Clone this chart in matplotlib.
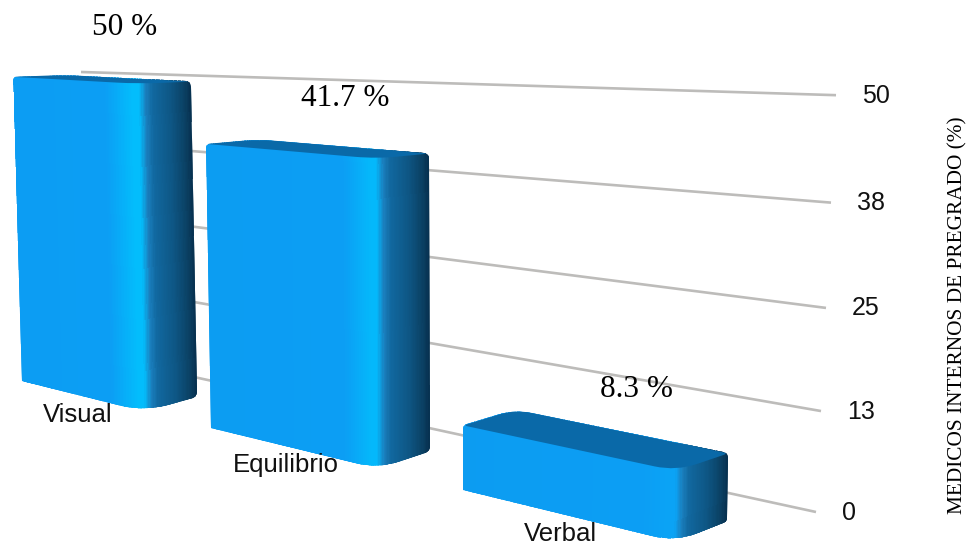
import numpy as np
import matplotlib
matplotlib.use("Agg")
import matplotlib.pyplot as plt
from matplotlib.path import Path
from matplotlib.patches import PathPatch
from matplotlib.colors import to_rgb

categories = ["Visual", "Equilibrio", "Verbal"]
values = [50.0, 41.7, 8.3]
value_labels = ["50 %", "41.7 %", "8.3 %"]
tick_values = [0, 12.5, 25, 37.5, 50]
tick_labels = ["0", "13", "25", "38", "50"]
axis_title = "MEDICOS INTERNOS DE PREGRADO (%)"

SANS = "Liberation Sans"
SERIF = "Liberation Serif"
HALF = 0.345


def project(t, v, d=0.0):
    """Perspective of the bar space: category t, value v, depth d, to pixels."""
    bx = 80 + 178.25 * t + 32.25 * t ** 2
    by = 381 + 0.2466 * (bx - 22)
    scale = 6.0 + 0.0038 * bx
    lean = -0.2 + 0.00045 * bx
    x = bx + lean * v
    y = by - scale * v
    return np.array([x + 52 * d, y - (2 + 0.04 * (y - 80)) * d])


def wall(s, v):
    """Perspective of the grid wall: position s along it, value v, to pixels."""
    left = np.array([81.0, 352.5 - 5.61 * v])
    right = np.array([816 + 0.4 * v, 512 - 7.99 * v - 0.00693 * v ** 2])
    return left + (right - left) * s


def rounded(points, radii):
    verts, codes = [], []
    n = len(points)
    for i in range(n):
        p = np.asarray(points[i], float)
        r = radii[i]
        if r <= 0:
            verts.append(p)
            codes.append(Path.LINETO)
            continue
        a = np.asarray(points[i - 1], float)
        b = np.asarray(points[(i + 1) % n], float)
        pa = p + (a - p) / np.linalg.norm(a - p) * min(r, np.linalg.norm(a - p) * 0.5)
        pb = p + (b - p) / np.linalg.norm(b - p) * min(r, np.linalg.norm(b - p) * 0.5)
        verts += [pa, p, pb]
        codes += [Path.LINETO, Path.CURVE3, Path.CURVE3]
    verts.append(verts[0])
    codes.append(Path.CLOSEPOLY)
    codes[0] = Path.MOVETO
    return Path(np.array(verts), codes)


def shade(dist, strength):
    """Colour of the bar skin, from the distance in pixels to its right edge."""
    stops_d = [0, 5, 20, 38, 45, 52, 58, 85, 500]
    base = np.array(to_rgb("#0c9ef4"))
    high = np.array(to_rgb("#03bdfc"))
    mid = base + (high - base) * strength
    near = np.array(to_rgb("#0d92e2"))
    stops_c = np.array([to_rgb("#07304f"), to_rgb("#0a3e60"), to_rgb("#0e5684"),
                        to_rgb("#11689f"), to_rgb("#1a7fbe"), mid, mid,
                        base, near * 0.35 + base * 0.65])
    return np.array([np.interp(dist, stops_d, stops_c[:, k]) for k in range(3)]).T


fig = plt.figure(figsize=(9.72, 5.46), dpi=100)
ax = fig.add_axes([0, 0, 1, 1])
ax.set_xlim(0, 972)
ax.set_ylim(546, 0)
ax.axis("off")

for v, lab in zip(tick_values, tick_labels):
    p0, p1 = wall(0, v), wall(1, v)
    ax.plot([p0[0], p1[0]], [p0[1], p1[1]], color="#bdbcba", lw=1.9,
            solid_capstyle="butt", zorder=1)
    ax.text(p1[0] + 26, p1[1] + 0.5, lab, family=SANS, fontsize=18,
            ha="left", va="center", color="#111111", zorder=5)

label_offsets = [(-2, 20), (-5, 18), (-5, 19)]
value_offsets = [(53, -53), (58, -52), (71, -58)]

for i, (cat, val, vlab) in enumerate(zip(categories, values, value_labels)):
    t0, t1 = i - HALF, i + HALF
    ts = np.linspace(t0, t1, 90)
    ds = np.linspace(0, 1, 41)[1:]
    bottom = np.vstack([[project(t, 0, 0) for t in ts], [project(t1, 0, d) for d in ds]])
    top = np.vstack([[project(t, val, 0) for t in ts], [project(t1, val, d) for d in ds]])
    X = np.vstack([bottom[:, 0], top[:, 0]])
    Y = np.vstack([bottom[:, 1], top[:, 1] - 30])
    mids = 0.5 * (X[0, :-1] + X[0, 1:])
    colors = shade(X[0, -1] - mids, val / 50.0)[np.newaxis, :, :]

    outline = [project(t0, 0, 0), project(t1, 0, 0), project(t1, 0, 1),
               project(t1, val, 1), project(t0, val, 1), project(t0, val, 0)]
    silhouette = rounded(outline, [0, 24, 5, 5, 16, 4])
    mesh = ax.pcolormesh(X, Y, colors, shading="flat", antialiased=False,
                         edgecolors="face", linewidth=0.3, zorder=2 + i * 0.1)
    mesh.set_clip_path(PathPatch(silhouette, transform=ax.transData))

    lid = [project(t0, val, 0), project(t0, val, 1), project(t1, val, 1), project(t1, val, 0)]
    ax.add_patch(PathPatch(rounded(lid, [4, 16, 5, 22]), fc="#0a69a8", ec="none",
                           zorder=2.05 + i * 0.1))

    base = project(i, 0, 0)
    ax.text(base[0] + label_offsets[i][0], base[1] + label_offsets[i][1], cat,
            family=SANS, fontsize=18.5, ha="center", va="center", color="#111111", zorder=5)
    crest = project(i, val, 0)
    ax.text(crest[0] + value_offsets[i][0], crest[1] + value_offsets[i][1], vlab,
            family=SERIF, fontsize=22.5, ha="center", va="center", color="black", zorder=5)

ax.text(958, 315, axis_title, family=SERIF, fontsize=15.3, rotation=90,
        ha="center", va="center", color="black")

fig.savefig("out.png", dpi=100)
